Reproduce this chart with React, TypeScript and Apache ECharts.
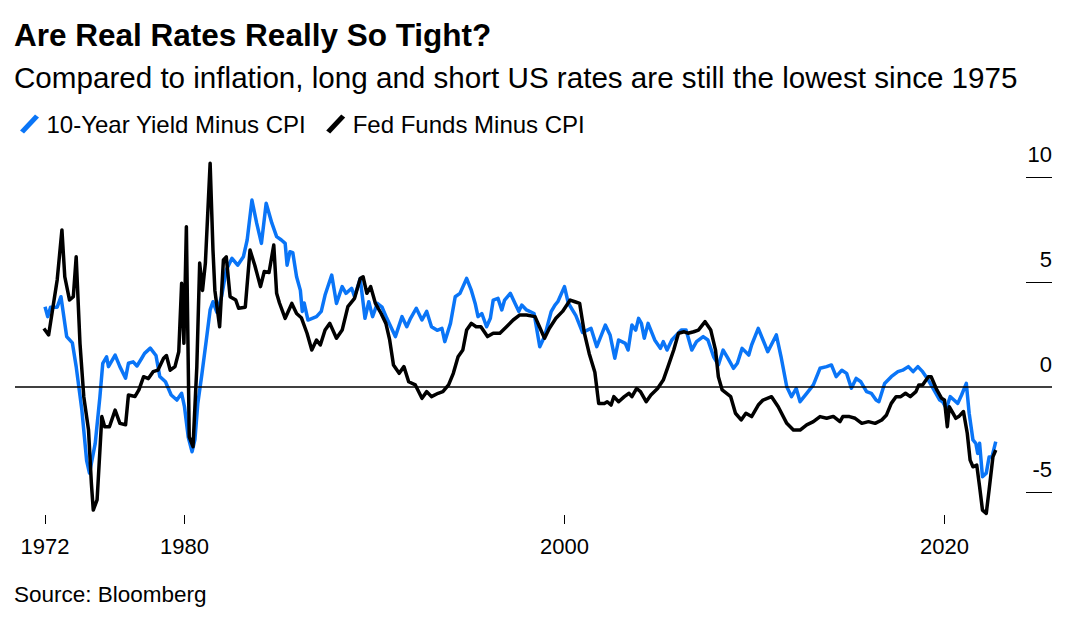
import React, { useEffect, useRef } from "react";
import * as echarts from "echarts";

const FONT = "'Liberation Sans', Arial, Helvetica, sans-serif";
const BLUE = "#0A75F7";

const titleText = "Are Real Rates Really So Tight?";
const subtitleText = "Compared to inflation, long and short US rates are still the lowest since 1975";
const sourceText = "Source: Bloomberg";
const seriesNames = ["10-Year Yield Minus CPI", "Fed Funds Minus CPI"];

const xTickValues = [1972.66, 1980, 2000, 2020];
const yLabelValues = [-5, 0, 5, 10];
const yTickValues = [-5, 5, 10];

const tenYearMinusCpi: [number, number][] = [
  [1972.66, 3.82], [1972.8, 3.35], [1972.95, 3.8], [1973.3, 3.8], [1973.5, 4.3], [1973.8, 2.4],
  [1974.1, 2.1], [1974.3, 0.97], [1974.6, -1.1], [1974.85, -3.5], [1975.0, -4.1], [1975.3, -2.7],
  [1975.55, -0.46], [1975.7, 1.13], [1975.9, 1.44], [1976.0, 0.97], [1976.35, 1.52], [1976.6, 0.97],
  [1976.9, 0.42], [1977.05, 1.13], [1977.3, 1.2], [1977.5, 1.0], [1977.75, 1.37], [1977.9, 1.6],
  [1978.2, 1.85], [1978.5, 1.5], [1978.7, 0.5], [1979.0, 0.25], [1979.3, -0.38], [1979.6, -0.62],
  [1979.85, -0.3], [1980.0, -0.94], [1980.2, -2.4], [1980.4, -3.08], [1980.55, -2.5], [1980.7, -0.8],
  [1980.9, 0.5], [1981.15, 2.24], [1981.35, 3.67], [1981.5, 4.06], [1981.7, 3.56], [1981.95, 4.3],
  [1982.2, 5.57], [1982.5, 6.13], [1982.8, 5.8], [1983.1, 6.2], [1983.3, 7.0], [1983.55, 8.9],
  [1983.8, 7.8], [1984.05, 6.84], [1984.3, 8.75], [1984.6, 7.8], [1984.85, 7.16], [1985.1, 7.0],
  [1985.3, 6.84], [1985.4, 5.8], [1985.55, 6.44], [1985.7, 6.4], [1985.9, 5.25], [1986.1, 4.6],
  [1986.2, 3.6], [1986.3, 4.0], [1986.5, 3.19], [1986.95, 3.35], [1987.2, 3.6], [1987.4, 4.38],
  [1987.75, 5.33], [1988.0, 3.98], [1988.3, 4.78], [1988.5, 4.46], [1988.8, 4.7], [1988.95, 4.3],
  [1989.25, 5.17], [1989.5, 3.27], [1989.7, 4.06], [1989.9, 3.35], [1990.15, 3.98], [1990.4, 3.8],
  [1990.65, 3.27], [1991.1, 2.4], [1991.45, 3.35], [1991.7, 2.87], [1991.9, 3.27], [1992.2, 3.75],
  [1992.5, 3.19], [1992.75, 3.6], [1993.0, 2.87], [1993.3, 2.7], [1993.55, 2.79], [1993.7, 2.16],
  [1994.0, 3.03], [1994.25, 4.3], [1994.5, 4.46], [1994.85, 5.17], [1995.1, 4.6], [1995.3, 3.98],
  [1995.45, 3.35], [1995.65, 3.5], [1995.9, 2.87], [1996.1, 3.27], [1996.25, 4.14], [1996.5, 4.22],
  [1996.7, 3.67], [1996.85, 4.14], [1997.15, 4.46], [1997.4, 3.98], [1997.6, 3.6], [1997.75, 3.9],
  [1998.0, 3.67], [1998.4, 3.5], [1998.7, 1.92], [1998.95, 2.4], [1999.3, 3.59], [1999.5, 3.9],
  [1999.65, 4.06], [2000.0, 4.78], [2000.2, 4.0], [2000.6, 3.4], [2000.95, 2.6], [2001.4, 2.79],
  [2001.7, 1.92], [2002.15, 2.95], [2002.4, 2.48], [2002.65, 1.37], [2002.85, 2.24], [2003.2, 2.08],
  [2003.35, 1.76], [2003.55, 2.95], [2003.75, 2.71], [2003.9, 3.27], [2004.05, 3.03], [2004.2, 2.32],
  [2004.4, 3.03], [2004.75, 2.24], [2005.05, 1.84], [2005.2, 2.16], [2005.4, 1.76], [2005.65, 2.24],
  [2005.9, 2.48], [2006.15, 2.71], [2006.4, 2.71], [2006.7, 1.76], [2006.95, 2.16], [2007.3, 2.4],
  [2007.55, 2.24], [2007.85, 1.44], [2008.1, 1.05], [2008.35, 1.76], [2008.6, 1.37], [2008.9, 0.89],
  [2009.1, 1.13], [2009.35, 1.84], [2009.7, 1.52], [2009.85, 2.0], [2010.2, 2.79], [2010.45, 2.24],
  [2010.7, 1.68], [2011.15, 2.48], [2011.4, 1.44], [2011.7, 0.01], [2011.95, -0.46], [2012.2, -0.07],
  [2012.4, -0.7], [2012.75, -0.3], [2013.1, 0.1], [2013.45, 0.89], [2013.8, 0.97], [2014.05, 1.05],
  [2014.3, 0.49], [2014.6, 0.8], [2014.85, 0.65], [2015.1, -0.06], [2015.35, 0.41], [2015.6, 0.25],
  [2015.9, -0.22], [2016.15, -0.3], [2016.4, -0.62], [2016.55, -0.7], [2016.85, 0.17], [2017.2, 0.49],
  [2017.55, 0.73], [2017.8, 0.8], [2018.1, 0.97], [2018.35, 0.73], [2018.6, 0.97], [2018.85, 0.73],
  [2019.15, 0.33], [2019.4, -0.06], [2019.75, -0.62], [2019.9, -0.7], [2020.1, -1.02], [2020.3, -0.46],
  [2020.5, -0.62], [2020.7, -0.78], [2020.9, -0.38], [2021.15, 0.17], [2021.3, -1.25], [2021.5, -2.52],
  [2021.65, -2.68], [2021.75, -3.16], [2021.85, -2.68], [2022.0, -4.27], [2022.2, -4.1], [2022.35, -3.33],
  [2022.5, -3.33], [2022.7, -2.6],
];

const fedFundsMinusCpi: [number, number][] = [
  [1972.6, 2.79], [1972.85, 2.48], [1973.3, 5.1], [1973.55, 7.48], [1973.7, 5.25], [1973.95, 4.14],
  [1974.15, 4.3], [1974.3, 6.2], [1974.5, 2.08], [1974.7, -0.46], [1974.95, -2.05], [1975.1, -4.59],
  [1975.2, -5.86], [1975.4, -5.38], [1975.65, -1.41], [1975.8, -1.89], [1976.05, -1.89], [1976.35, -1.1],
  [1976.6, -1.73], [1976.9, -1.8], [1977.05, -0.38], [1977.4, -0.45], [1977.6, -0.14], [1977.85, 0.49],
  [1978.1, 0.4], [1978.35, 0.73], [1978.6, 0.8], [1978.9, 1.37], [1979.05, 1.5], [1979.25, 0.8],
  [1979.5, 0.97], [1979.7, 1.68], [1979.85, 4.94], [1979.97, 2.08], [1980.1, 7.63], [1980.25, -2.37],
  [1980.45, -2.84], [1980.65, 0.97], [1980.8, 5.9], [1980.95, 4.6], [1981.1, 5.9], [1981.35, 10.65],
  [1981.5, 6.52], [1981.6, 4.6], [1981.85, 2.87], [1982.05, 6.05], [1982.2, 6.2], [1982.4, 4.3],
  [1982.7, 4.14], [1982.85, 3.75], [1983.2, 3.8], [1983.45, 6.52], [1983.7, 5.8], [1984.0, 4.78],
  [1984.2, 5.5], [1984.45, 5.45], [1984.7, 6.76], [1984.85, 4.46], [1985.0, 4.0], [1985.3, 3.27],
  [1985.65, 3.98], [1985.9, 3.5], [1986.15, 3.3], [1986.45, 2.56], [1986.7, 1.76], [1986.95, 2.24],
  [1987.15, 2.0], [1987.4, 2.71], [1987.65, 3.03], [1988.0, 2.32], [1988.3, 2.71], [1988.6, 3.83],
  [1988.95, 4.22], [1989.25, 5.17], [1989.4, 5.25], [1989.6, 4.46], [1989.8, 4.78], [1990.05, 3.98],
  [1990.35, 3.5], [1990.6, 3.03], [1990.8, 2.24], [1991.0, 1.05], [1991.3, 0.65], [1991.55, 0.97],
  [1991.8, 0.25], [1992.15, 0.1], [1992.5, -0.54], [1992.75, -0.22], [1993.0, -0.46], [1993.35, -0.3],
  [1993.6, -0.22], [1993.9, 0.1], [1994.15, 0.65], [1994.4, 1.44], [1994.65, 1.76], [1994.85, 2.71],
  [1995.1, 3.03], [1995.35, 2.87], [1995.6, 2.87], [1995.95, 2.4], [1996.25, 2.56], [1996.6, 2.56],
  [1996.95, 2.87], [1997.3, 3.19], [1997.65, 3.43], [1998.0, 3.43], [1998.45, 3.35], [1998.8, 2.63],
  [1998.95, 2.32], [1999.2, 2.79], [1999.55, 3.27], [1999.9, 3.6], [2000.3, 4.14], [2000.55, 4.06],
  [2000.8, 3.98], [2001.05, 2.56], [2001.3, 1.6], [2001.6, 0.7], [2001.8, -0.78], [2002.1, -0.78],
  [2002.25, -0.7], [2002.45, -0.86], [2002.6, -0.46], [2002.85, -0.7], [2003.15, -0.46], [2003.4, -0.3],
  [2003.55, -0.46], [2003.8, -0.07], [2004.0, -0.22], [2004.3, -0.7], [2004.55, -0.38], [2004.9, -0.07],
  [2005.2, 0.33], [2005.45, 0.97], [2005.75, 1.76], [2006.0, 2.56], [2006.3, 2.63], [2006.5, 2.56],
  [2006.8, 2.63], [2007.05, 2.71], [2007.4, 3.11], [2007.7, 2.71], [2007.95, 1.76], [2008.1, 0.49],
  [2008.3, -0.14], [2008.75, -0.46], [2009.0, -1.25], [2009.3, -1.57], [2009.55, -1.25], [2009.85, -1.41],
  [2010.2, -0.86], [2010.45, -0.62], [2010.9, -0.46], [2011.25, -0.94], [2011.7, -1.73], [2012.05, -2.05],
  [2012.4, -2.05], [2012.75, -1.8], [2013.1, -1.65], [2013.45, -1.41], [2013.8, -1.49], [2014.15, -1.4],
  [2014.5, -1.65], [2014.65, -1.41], [2015.0, -1.41], [2015.3, -1.49], [2015.65, -1.73], [2016.0, -1.65],
  [2016.35, -1.73], [2016.7, -1.57], [2016.95, -1.33], [2017.2, -0.78], [2017.45, -0.46], [2017.7, -0.46],
  [2017.95, -0.3], [2018.2, -0.46], [2018.5, -0.22], [2018.65, 0.1], [2018.85, 0.1], [2019.15, 0.49],
  [2019.3, 0.49], [2019.6, -0.14], [2019.85, -0.54], [2020.0, -0.62], [2020.15, -1.89], [2020.25, -0.94],
  [2020.45, -1.25], [2020.6, -1.49], [2020.75, -1.41], [2021.0, -1.17], [2021.2, -2.2], [2021.35, -3.48],
  [2021.5, -3.8], [2021.7, -3.72], [2021.85, -4.75], [2022.0, -5.86], [2022.2, -6.02], [2022.35, -4.9],
  [2022.55, -3.33], [2022.7, -3.0],
];

const slashIcon = "path://M0,16 L15,0 L19,3 L4,19 Z";

export default function App() {
  const ref = useRef<HTMLDivElement>(null);

  useEffect(() => {
    if (!ref.current) return;
    const chart = echarts.init(ref.current, null, { renderer: "svg" });
    chart.setOption({
      animation: false,
      backgroundColor: "#ffffff",
      textStyle: { fontFamily: FONT },
      title: [
        {
          text: titleText,
          left: 14,
          top: 19,
          padding: 0,
          textStyle: { fontFamily: FONT, fontSize: 31.5, fontWeight: "bold", color: "#000" },
        },
        {
          text: subtitleText,
          left: 14,
          top: 62,
          padding: 0,
          textStyle: { fontFamily: FONT, fontSize: 29.6, fontWeight: "normal", color: "#000" },
        },
        {
          text: sourceText,
          left: 14,
          top: 583,
          padding: 0,
          textStyle: { fontFamily: FONT, fontSize: 22.5, fontWeight: "normal", color: "#000" },
        },
      ],
      legend: {
        left: 15,
        top: 107,
        icon: slashIcon,
        itemWidth: 20,
        itemHeight: 19,
        itemGap: 20,
        textStyle: { fontFamily: FONT, fontSize: 24, color: "#000", padding: [0, 0, 0, 2] },
        data: seriesNames,
      },
      grid: { left: 15, right: 28, top: 177, bottom: 120, containLabel: false },
      xAxis: {
        type: "value",
        min: 1971.08,
        max: 2025.66,
        axisLine: { show: true, onZero: false, lineStyle: { color: "rgba(0,0,0,0)", width: 0 } },
        splitLine: { show: false },
        axisTick: {
          show: true,
          length: 9,
          lineStyle: { color: "#000", width: 1 },
          customValues: xTickValues,
        },
        axisLabel: {
          show: true,
          customValues: xTickValues,
          margin: 20,
          fontFamily: FONT,
          fontSize: 22,
          color: "#000",
          formatter: (v: number) => String(Math.floor(v)),
        },
      },
      yAxis: {
        type: "value",
        position: "right",
        min: -6.095,
        max: 10,
        axisLine: { show: false },
        splitLine: { show: false },
        axisTick: {
          show: true,
          inside: true,
          length: 26,
          lineStyle: { color: "#000", width: 1 },
          customValues: yTickValues,
        },
        axisLabel: {
          show: true,
          inside: true,
          margin: 0,
          customValues: yLabelValues,
          fontFamily: FONT,
          fontSize: 22,
          color: "#000",
          verticalAlign: "bottom",
          padding: [0, 0, 12, 0],
        },
      },
      series: [
        {
          name: seriesNames[0],
          type: "line",
          data: tenYearMinusCpi,
          showSymbol: false,
          symbol: "none",
          clip: false,
          color: BLUE,
          lineStyle: { color: BLUE, width: 3.5, join: "round" },
          markLine: {
            silent: true,
            symbol: "none",
            label: { show: false },
            lineStyle: { color: "#000", width: 1.5, type: "solid" },
            data: [{ yAxis: 0 }],
          },
        },
        {
          name: seriesNames[1],
          type: "line",
          data: fedFundsMinusCpi,
          showSymbol: false,
          symbol: "none",
          clip: false,
          color: "#000",
          lineStyle: { color: "#000", width: 3.5, join: "round" },
        },
      ],
    });
    return () => chart.dispose();
  }, []);

  return (
    <div
      ref={ref}
      style={{ position: "fixed", left: 0, top: 0, width: 1080, height: 635, background: "#fff" }}
    />
  );
}
